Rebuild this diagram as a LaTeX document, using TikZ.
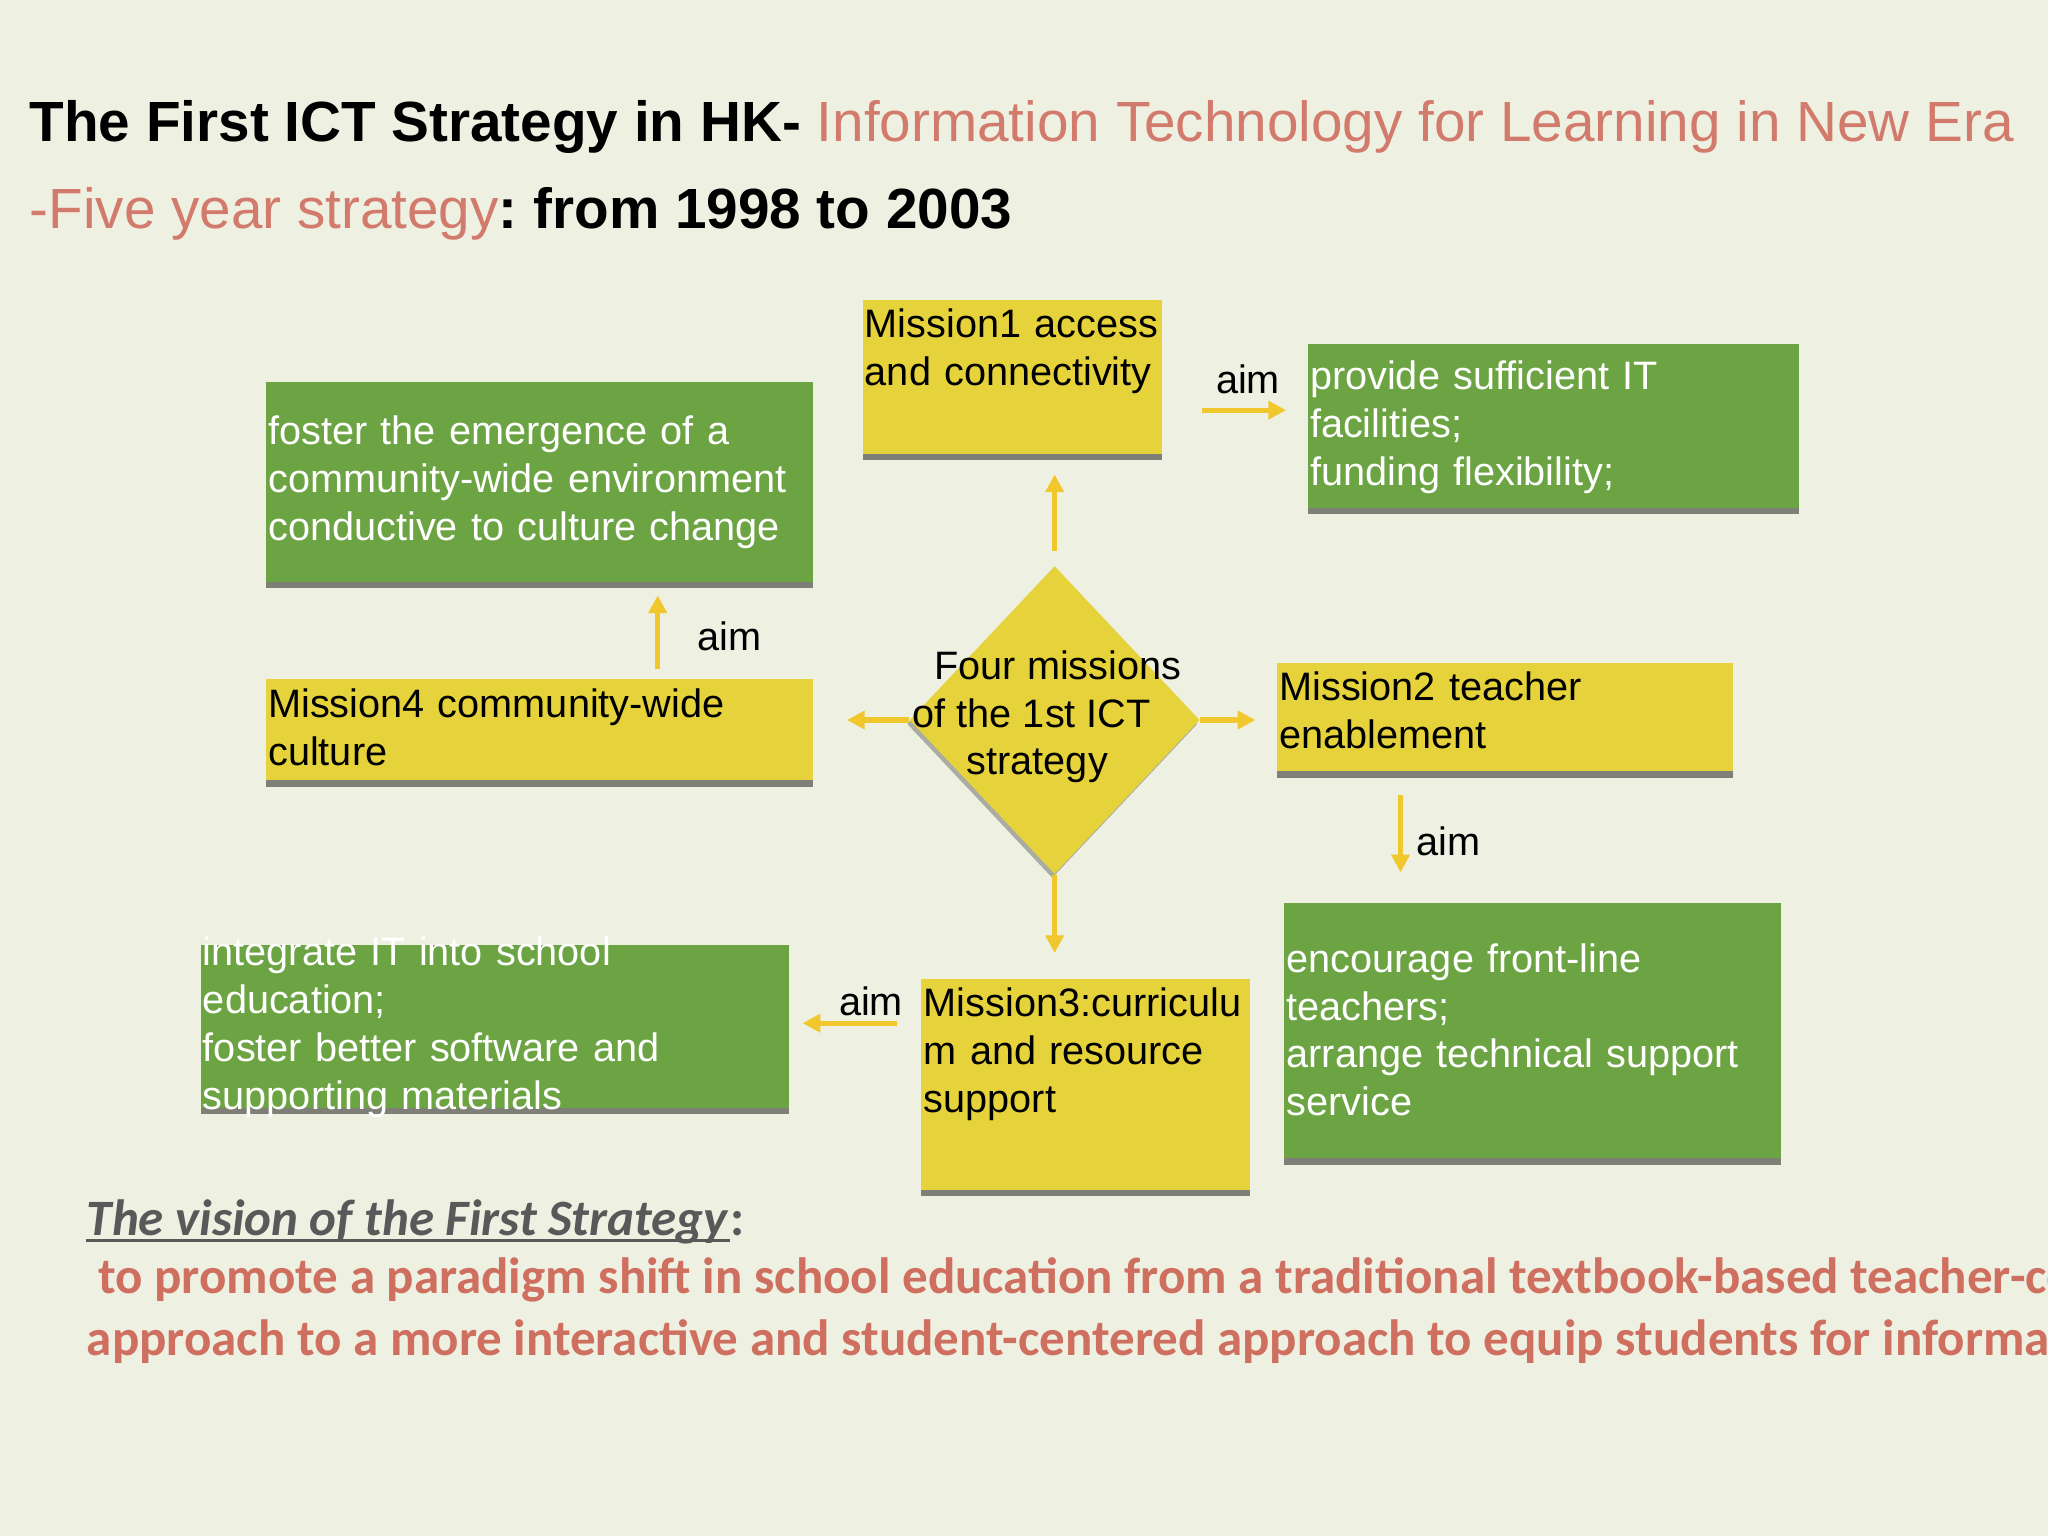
\documentclass[tikz,border=0pt]{standalone}
\usepackage{fontspec}
\setmainfont{Liberation Sans}
\newfontfamily\calibri{Carlito}
\usepackage{xcolor}
\usetikzlibrary{shapes.geometric,arrows.meta,positioning,calc,shadows}

\definecolor{bgcream}{HTML}{EEF0E2}
\definecolor{boxgreen}{HTML}{6CA443}
\definecolor{boxyellow}{HTML}{E6D33B}
\definecolor{arrowyellow}{HTML}{F0C72C}
\definecolor{shadowgray}{HTML}{7E7F76}
\definecolor{salmon}{HTML}{D27B6C}
\definecolor{visionred}{HTML}{CF6F60}
\definecolor{visiongray}{HTML}{595959}

\newcommand{\boxfont}{\fontsize{14}{16.9}\selectfont}

\begin{document}
\frenchspacing
\begin{tikzpicture}[
    box/.style={anchor=north west, align=left, inner xsep=0.03cm, inner ysep=0, font=\boxfont,
      drop shadow={shadow xshift=0cm, shadow yshift=-0.08cm, fill=shadowgray, opacity=1}},
    greenbox/.style={box, fill=boxgreen, text=white},
    yellowbox/.style={box, fill=boxyellow, text=black},
    aimarrow/.style={draw=arrowyellow, line width=1.8pt, -{Triangle[length=0.22cm, width=0.22cm]}},
    aimlabel/.style={font=\boxfont, inner sep=1pt}
]
    % Slide
    \useasboundingbox (0,0) rectangle (25.4,19.05);
    \fill[bgcream] (0,0) rectangle (25.4,19.05);

    % Title
    \node[anchor=base west, inner sep=0, font=\fontsize{20}{24}\selectfont] (title1) at (0.36,17.30)
        {\textbf{The First ICT Strategy in HK-} \textcolor{salmon}{Information Technology for Learning in New Era}};
    \node[anchor=base west, inner sep=0, font=\fontsize{20}{24}\selectfont] (title2) at (0.36,16.21)
        {\textcolor{salmon}{-Five year strategy}\textbf{: from 1998 to 2003}};

    % Centre diamond
    \node[diamond, fill=boxyellow, minimum width=3.6cm, minimum height=3.82cm, inner sep=0,
        drop shadow={shadow xshift=-0.03cm, shadow yshift=-0.05cm, fill=shadowgray, opacity=.6}] (dia) at (13.08,10.12) {};
    \node[anchor=west, align=left, inner sep=0, font=\boxfont] (diatxt) at ([xshift=0.04cm, yshift=0.04cm]dia.west)
        {\hspace*{0.27cm}Four missions\\of the 1st ICT\\\hspace*{0.67cm}strategy};

    % Mission boxes
    \node[yellowbox, text width=3.66cm, text height=0.46cm, text depth=1.44cm] (m1) at (10.69,15.33) {Mission1 access\\and connectivity};
    \node[yellowbox, text width=5.60cm, text height=0.47cm, text depth=0.88cm] (m2) at (15.83,10.84) {Mission2 teacher\\enablement};
    \node[yellowbox, text width=4.02cm, text height=0.47cm, text depth=2.15cm] (m3) at (11.42,6.92) {Mission3:curriculu\\m and resource\\support};
    \node[yellowbox, text width=6.72cm, text height=0.47cm, text depth=0.78cm] (m4) at (3.29,10.63) {Mission4 community-wide\\culture};

    % Aim boxes
    \node[greenbox, text width=6.03cm, text height=0.57cm, text depth=1.46cm] (prov) at (16.21,14.79) {provide sufficient IT\\facilities;\\funding flexibility;};
    \node[greenbox, text width=6.72cm, text height=0.78cm, text depth=1.70cm] (fost) at (3.29,14.32) {foster the emergence of a\\community-wide environment\\conductive to culture change};
    \node[greenbox, text width=6.10cm, text height=0.86cm, text depth=2.31cm] (enc) at (15.92,7.86) {encourage front-line\\teachers;\\arrange technical support\\service};
    \node[greenbox, text width=7.24cm, text height=0.26cm, text depth=1.76cm] (integ) at (2.48,7.34) {integrate IT into school\\education;\\foster better software and\\supporting materials};

    % Diamond to missions
    \draw[aimarrow, shorten <=0.18cm, shorten >=0.25cm] (dia.north) -- (dia.north |- m1.south);
    \draw[aimarrow, shorten >=0.26cm] (dia.east) -- (dia.east -| m2.west);
    \draw[aimarrow, shorten >=0.31cm] (dia.south) -- (dia.south |- m3.north);
    \draw[aimarrow, shorten >=0.42cm] (dia.west) -- (dia.west -| m4.east);

    % Missions to aims
    \draw[aimarrow, shorten <=0.48cm, shorten >=0.26cm] ([yshift=-0.41cm]m1.east) -- ([yshift=-0.41cm]m1.east -| prov.west)
        node[pos=0.59, above=0.13cm, aimlabel] (aim1) {aim};
    \draw[aimarrow, shorten <=0.29cm, shorten >=0.37cm] ([xshift=1.54cm]m2.south west) -- ([xshift=1.54cm]m2.south west |- enc.north)
        node[pos=0.53, right=0.13cm, aimlabel] (aim2) {aim};
    \draw[aimarrow, shorten <=0.29cm, shorten >=0.16cm] ([yshift=-0.56cm]m3.north west) -- ([yshift=-0.56cm]m3.north west -| integ.east)
        node[pos=0.38, above=0.02cm, aimlabel] (aim3) {aim};
    \draw[aimarrow, shorten <=0.12cm, shorten >=0.16cm] ([xshift=1.47cm]m4.north) -- ([xshift=1.47cm]m4.north |- fost.south)
        node[pos=0.44, right=0.43cm, aimlabel] (aim4) {aim};

    % Vision
    \node[anchor=base west, inner sep=0, font=\calibri\fontsize{18}{22}\selectfont, text=visiongray] (vistitle) at (1.07,3.73)
        {\textbf{\textit{The vision of the First Strategy}}};
    \node[anchor=base west, inner sep=0, font=\calibri\bfseries\fontsize{18}{22}\selectfont, text=visiongray] (viscolon) at (vistitle.base east) {:};
    \draw[visiongray, line width=1pt] ([yshift=-0.06cm]vistitle.base west) -- ([yshift=-0.06cm]vistitle.base east);
    \node[anchor=base west, inner sep=0, font=\calibri\bfseries\fontsize{18}{22}\selectfont, text=visionred] (vis1) at (1.07,3.01)
        {\ to promote a paradigm shift in school education from a traditional textbook-based teacher-centered};
    \node[anchor=base west, inner sep=0, font=\calibri\bfseries\fontsize{18}{22}\selectfont, text=visionred] (vis2) at (1.07,2.24)
        {approach to a more interactive and student-centered approach to equip students for information};
\end{tikzpicture}
\end{document}
